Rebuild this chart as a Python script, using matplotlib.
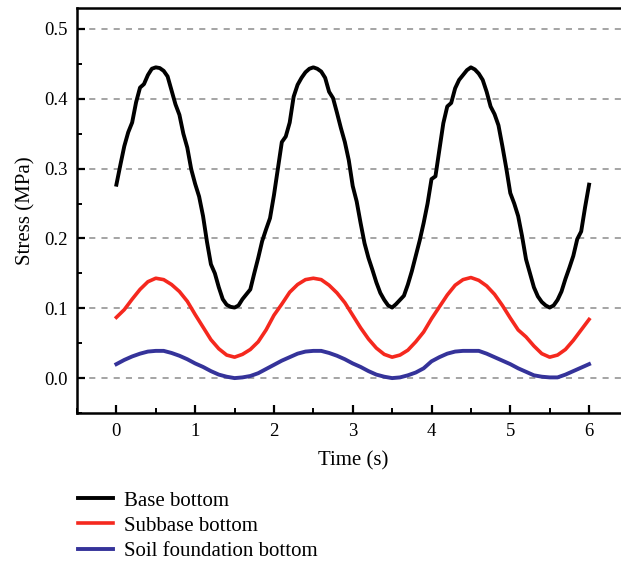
import numpy as np
import matplotlib.pyplot as plt
from matplotlib.ticker import MultipleLocator

plt.rcParams['font.family'] = ['Liberation Serif', 'DejaVu Serif']
plt.rcParams['mathtext.fontset'] = 'stix'

# time axis (s)
t_base = np.arange(0, 6.001, 0.05)
t_sub = np.arange(0, 6.001, 0.1)

# stress at base bottom (MPa), 0.05 s steps
base_bottom = [
    0.277, 0.305, 0.332, 0.352, 0.366, 0.395, 0.416, 0.421, 0.434, 0.443,
    0.445, 0.444, 0.440, 0.432, 0.412, 0.392, 0.377, 0.350, 0.330, 0.299,
    0.278, 0.260, 0.232, 0.195, 0.163, 0.150, 0.130, 0.113, 0.105, 0.102,
    0.101, 0.104, 0.113, 0.120, 0.127, 0.150, 0.172, 0.196, 0.213, 0.229,
    0.262, 0.300, 0.338, 0.346, 0.366, 0.403, 0.420, 0.430, 0.438, 0.443,
    0.445, 0.443, 0.439, 0.430, 0.410, 0.401, 0.380, 0.358, 0.338, 0.312,
    0.275, 0.253, 0.222, 0.193, 0.172, 0.155, 0.137, 0.122, 0.112, 0.104,
    0.101, 0.106, 0.112, 0.118, 0.134, 0.153, 0.175, 0.197, 0.222, 0.250,
    0.285, 0.289, 0.327, 0.365, 0.389, 0.394, 0.415, 0.427, 0.434, 0.441,
    0.445, 0.442, 0.436, 0.427, 0.410, 0.389, 0.378, 0.362, 0.332, 0.300,
    0.265, 0.250, 0.232, 0.203, 0.170, 0.150, 0.130, 0.117, 0.109, 0.104,
    0.101, 0.104, 0.112, 0.124, 0.142, 0.158, 0.175, 0.199, 0.210, 0.245,
    0.277,
]

# stress at subbase bottom (MPa), 0.1 s steps
subbase_bottom = [
    0.087, 0.098, 0.113, 0.127, 0.138, 0.143, 0.141, 0.134, 0.124, 0.110,
    0.091, 0.073, 0.055, 0.042, 0.033, 0.030, 0.034, 0.041, 0.052, 0.069,
    0.090, 0.106, 0.123, 0.134, 0.141, 0.143, 0.141, 0.133, 0.122, 0.108,
    0.090, 0.072, 0.056, 0.043, 0.034, 0.030, 0.033, 0.040, 0.052, 0.066,
    0.085, 0.102, 0.119, 0.133, 0.141, 0.144, 0.140, 0.132, 0.120, 0.104,
    0.086, 0.069, 0.059, 0.046, 0.035, 0.030, 0.033, 0.041, 0.054, 0.069,
    0.084,
]

# stress at soil foundation bottom (MPa), 0.1 s steps
soil_bottom = [
    0.020, 0.026, 0.031, 0.035, 0.038, 0.039, 0.039, 0.036, 0.032, 0.027,
    0.021, 0.016, 0.010, 0.005, 0.002, 0.000, 0.001, 0.003, 0.007, 0.013,
    0.019, 0.025, 0.030, 0.035, 0.038, 0.039, 0.039, 0.036, 0.032, 0.027,
    0.021, 0.016, 0.010, 0.005, 0.002, 0.000, 0.001, 0.004, 0.008, 0.014,
    0.024, 0.030, 0.035, 0.038, 0.039, 0.039, 0.039, 0.035, 0.030, 0.025,
    0.020, 0.014, 0.009, 0.004, 0.002, 0.001, 0.001, 0.005, 0.010, 0.015,
    0.020,
]

fig = plt.figure(figsize=(6.21, 5.63), dpi=100)
ax = fig.add_axes([0.124, 0.2664, 0.888, 0.7194])

for y in np.arange(0, 0.51, 0.1):
    ax.axhline(y, color='#8c8c8c', lw=1.1, ls=(0, (4, 4)), zorder=0)

ax.plot(t_base, base_bottom, color='black', lw=2.8, label='Base bottom')
ax.plot(t_sub, subbase_bottom, color='#f5281e', lw=2.6, label='Subbase bottom')
ax.plot(t_sub, soil_bottom, color='#35339a', lw=2.8, label='Soil foundation bottom')

ax.set_xlim(-0.5, 6.5)
ax.set_ylim(-0.05, 0.53)
ax.xaxis.set_major_locator(MultipleLocator(1))
ax.xaxis.set_minor_locator(MultipleLocator(0.5))
ax.yaxis.set_major_locator(MultipleLocator(0.1))
ax.yaxis.set_minor_locator(MultipleLocator(0.05))
ax.set_yticks(np.arange(0, 0.51, 0.1))
ax.set_yticklabels(['%.1f' % v for v in np.arange(0, 0.51, 0.1)])

ax.spines['right'].set_visible(False)
for s in ['left', 'bottom', 'top']:
    ax.spines[s].set_linewidth(1.8)
ax.tick_params(which='major', direction='in', length=6, width=1.6,
               labelsize=13.5, pad=7)
ax.tick_params(which='minor', direction='in', length=3.5, width=1.4)
ax.tick_params(top=False, right=False, which='both')

ax.set_xlabel('Time (s)', fontsize=15, labelpad=8)
ax.set_ylabel('Stress (MPa)', fontsize=15, labelpad=6)

fig.legend(loc='upper left', bbox_to_anchor=(0.126, 0.128), frameon=False,
           fontsize=15, handlelength=1.65, handletextpad=0.55,
           labelspacing=0.27, borderaxespad=0, borderpad=0)

fig.savefig('out.png', dpi=100)
